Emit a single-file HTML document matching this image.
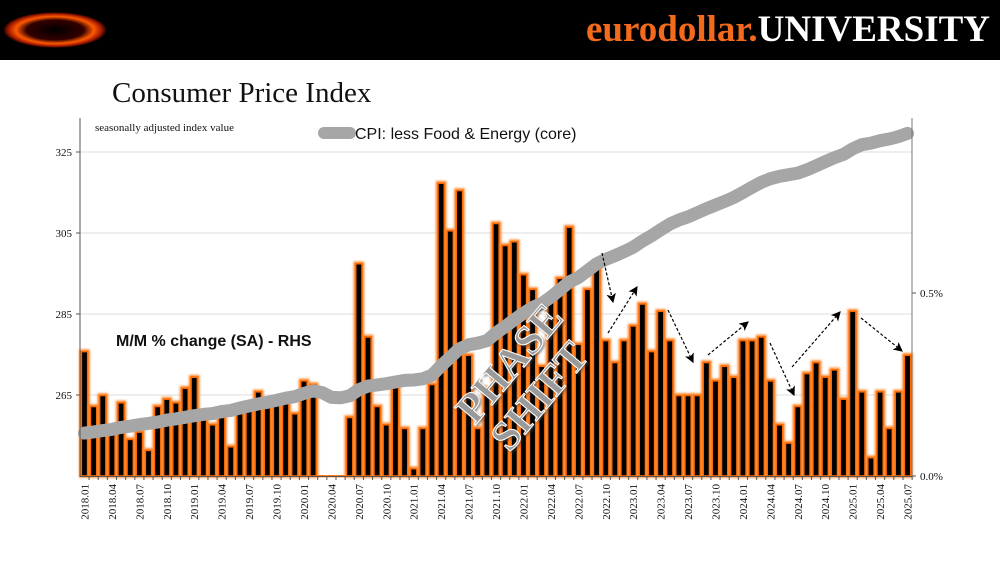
<!DOCTYPE html>
<html><head><meta charset="utf-8"><style>
body{margin:0;background:#fff;}
svg{display:block;}
</style></head><body>
<svg width="1000" height="563" viewBox="0 0 1000 563" xmlns="http://www.w3.org/2000/svg">
<defs>
<radialGradient id="lg" cx="50%" cy="50%" r="50%">
<stop offset="0" stop-color="#000"/><stop offset="0.55" stop-color="#300"/><stop offset="0.75" stop-color="#ff5a00"/><stop offset="0.9" stop-color="#a01800"/><stop offset="1" stop-color="#000"/>
</radialGradient>
<filter id="glow" x="-50%" y="-50%" width="200%" height="200%"><feGaussianBlur stdDeviation="1"/></filter>
<filter id="sh" x="-20%" y="-20%" width="140%" height="140%"><feDropShadow dx="1.5" dy="1.5" stdDeviation="1" flood-color="#444" flood-opacity="0.6"/></filter>
<marker id="ah" markerWidth="8" markerHeight="8" refX="7" refY="4" orient="auto"><path d="M0,0 L8,4 L0,8 L2,4 Z" fill="#000"/></marker>
</defs>
<rect x="0" y="0" width="1000" height="60" fill="#000"/>
<ellipse cx="55" cy="30" rx="52" ry="18" fill="url(#lg)"/>
<text x="990" y="41" text-anchor="end" font-family="Liberation Serif, serif" font-weight="bold" font-size="37"><tspan fill="#f26a1b">eurodollar.</tspan><tspan fill="#fff">UNIVERSITY</tspan></text>
<text x="112" y="102" font-family="Liberation Serif, serif" font-size="29" fill="#111">Consumer Price Index</text>
<text x="95" y="131" font-family="Liberation Serif, serif" font-size="11" fill="#111">seasonally adjusted index value</text>
<line x1="324" y1="133" x2="350" y2="133" stroke="#a6a6a6" stroke-width="12" stroke-linecap="round"/>
<text x="355" y="139" font-family="Liberation Sans, sans-serif" font-size="16" fill="#111">CPI: less Food &amp; Energy (core)</text>
<g id="grid"></g><g id="bars"></g><g id="line"></g><g id="axes"></g>
<text x="116" y="346" font-family="Liberation Sans, sans-serif" font-weight="bold" font-size="16" fill="#111">M/M % change (SA) - RHS</text>
<g font-family="Liberation Serif, serif" font-weight="bold" font-size="42" fill="#9a9a9a" stroke="#fff" stroke-width="1" filter="url(#sh)">
<text transform="translate(520,372) rotate(-50)" text-anchor="middle">PHASE</text>
<text transform="translate(550,405) rotate(-50)" text-anchor="middle">SHIFT</text>
</g>
<g stroke="#000" stroke-width="1.2" stroke-dasharray="3,2" fill="none">
<line x1="602" y1="253" x2="613" y2="302" marker-end="url(#ah)"/>
<line x1="608" y1="333" x2="637" y2="287" marker-end="url(#ah)"/>
<line x1="668" y1="310" x2="693" y2="362" marker-end="url(#ah)"/>
<line x1="708" y1="355" x2="748" y2="322" marker-end="url(#ah)"/>
<line x1="770" y1="343" x2="794" y2="395" marker-end="url(#ah)"/>
<line x1="792" y1="367" x2="840" y2="312" marker-end="url(#ah)"/>
<line x1="861" y1="318" x2="902" y2="351" marker-end="url(#ah)"/>
</g>
</svg>
<script>
const months = [];
for (let y = 2018; y <= 2025; y++) for (let m = 1; m <= 12; m++) { if (y === 2025 && m > 7) break; months.push(y + '.' + String(m).padStart(2, '0')); }
const mmChange = [0.34,0.19,0.22,0.13,0.20,0.10,0.12,0.07,0.19,0.21,0.20,0.24,
0.27,0.16,0.14,0.16,0.08,0.17,0.19,0.23,0.19,0.21,0.21,0.17,
0.26,0.25,-0.1,-0.4,-0.1,0.16,0.58,0.38,0.19,0.14,0.25,0.13,
0.02,0.13,0.25,0.80,0.67,0.78,0.33,0.13,0.24,0.69,0.63,0.64,
0.55,0.51,0.30,0.48,0.54,0.68,0.36,0.51,0.57,0.37,0.31,0.37,
0.41,0.47,0.34,0.45,0.37,0.22,0.22,0.22,0.31,0.26,0.30,0.27,
0.37,0.37,0.38,0.26,0.14,0.09,0.19,0.28,0.31,0.27,0.29,0.21,
0.45,0.23,0.05,0.23,0.13,0.23,0.33];
const coreIndex = [255.6,255.9,256.2,256.5,257.0,257.3,257.7,258.0,258.3,258.8,259.1,259.5,
259.9,260.2,260.4,260.9,261.2,261.8,262.3,262.8,263.2,263.7,264.2,264.6,
265.4,266.0,265.6,264.4,264.3,264.8,266.3,267.2,267.5,267.8,268.2,268.6,
268.7,269.0,269.9,272.2,274.3,276.4,277.4,277.8,278.4,280.3,281.9,283.6,
285.2,286.6,287.6,289.2,291.0,292.9,294.0,295.7,297.4,298.5,299.4,300.4,
301.5,303.0,304.3,305.8,307.2,308.2,309.0,310.0,311.0,311.9,312.8,313.8,
315.0,316.3,317.5,318.4,319.0,319.4,319.8,320.6,321.6,322.6,323.6,324.4,
325.8,326.8,327.2,327.8,328.2,328.8,329.6];
const leftTicks = [265, 285, 305, 325];
const rightTicks = [0.0, 0.5];
const rightTickLabels = ['0.0%', '0.5%'];

const NS = 'http://www.w3.org/2000/svg';
const X0 = 84.5, DX = 9.145, BASE = 476;
const xPos = i => X0 + i * DX;
const yLeft = v => BASE - (v - 245) * 4.05;
const yRight = p => BASE - p * 366;
function mk(tag, attrs, parent) { const e = document.createElementNS(NS, tag); for (const k in attrs) e.setAttribute(k, attrs[k]); parent.appendChild(e); return e; }
const gGrid = document.getElementById('grid'), gBars = document.getElementById('bars'), gLine = document.getElementById('line'), gAx = document.getElementById('axes');

leftTicks.forEach(t => {
  const l = mk('line', {x1: 80, x2: 912, y1: yLeft(t), y2: yLeft(t), stroke: '#dcdcdc', 'stroke-width': 1}, gGrid);
  
  
  const tk = mk('line', {x1: 76, x2: 80, y1: yLeft(t), y2: yLeft(t), stroke: '#555'}, gAx);
  
  
  const tx = mk('text', {x: 72, y: yLeft(t) + 4, 'text-anchor': 'end', 'font-family': 'Liberation Serif, serif', 'font-size': 11, fill: '#111'}, gAx);
  tx.textContent = t;
  
  
});
rightTicks.forEach((t, i) => {
  const tk = mk('line', {x1: 912, x2: 916, y1: yRight(t), y2: yRight(t), stroke: '#555'}, gAx);
  
  
  const tx = mk('text', {x: 920, y: yRight(t) + 4, 'font-family': 'Liberation Serif, serif', 'font-size': 11, fill: '#111'}, gAx);
  tx.textContent = rightTickLabels[i];
  
  
});

mmChange.forEach((v, i) => {
  const top = yRight(Math.max(0, v));
  const h = Math.max(0.5, BASE - top);
  const glow = mk('rect', {x: xPos(i) - 3.6, y: top - 0.5, width: 7.2, height: h + 0.5, fill: 'none', stroke: '#ff8a30', 'stroke-width': 3.5, filter: 'url(#glow)'}, gBars);
  
  
  const b = mk('rect', {x: xPos(i) - 3.2, y: top, width: 6.4, height: h, fill: '#000', stroke: '#ff6a00', 'stroke-width': 1.6}, gBars);
  
  
});

const pts = coreIndex.map((v, i) => xPos(i).toFixed(1) + ',' + yLeft(v).toFixed(1)).join(' ');
const pl = mk('polyline', {points: pts, fill: 'none', stroke: '#a6a6a6', 'stroke-width': 13, 'stroke-linejoin': 'round', 'stroke-linecap': 'round'}, gLine);



const la = mk('line', {x1: 80, x2: 80, y1: 118, y2: 477, stroke: '#555'}, gAx);


const ra = mk('line', {x1: 912, x2: 912, y1: 118, y2: 477, stroke: '#777'}, gAx);


const xa = mk('line', {x1: 80, x2: 912, y1: 476.5, y2: 476.5, stroke: '#555'}, gAx);


months.forEach((m, i) => {
  const tk = mk('line', {x1: xPos(i) + DX / 2, x2: xPos(i) + DX / 2, y1: 476, y2: 480, stroke: '#555'}, gAx);
  
  
  if (i % 3 === 0) {
    const tx = mk('text', {transform: 'translate(' + (xPos(i) + 4).toFixed(1) + ',484) rotate(-90)', 'text-anchor': 'end', 'font-family': 'Liberation Serif, serif', 'font-size': 11, fill: '#111'}, gAx);
    tx.textContent = m;
    
    
  }
});
</script>
</body></html>
